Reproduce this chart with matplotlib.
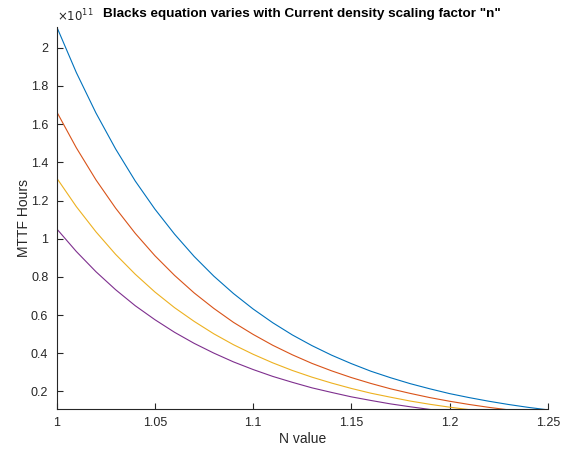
import numpy as np
import matplotlib.pyplot as plt
from matplotlib.ticker import FuncFormatter

plt.rcParams['font.family'] = ['Liberation Sans', 'DejaVu Sans']

# N value (current density scaling factor)
n_vals = [1.00, 1.01, 1.02, 1.03, 1.04, 1.05, 1.06, 1.07, 1.08, 1.09, 1.10, 1.11, 1.12,
          1.13, 1.14, 1.15, 1.16, 1.17, 1.18, 1.19, 1.20, 1.21, 1.22, 1.23, 1.24, 1.25]

# MTTF hours, in units of 1e11
mttf_1 = [2.110, 1.870, 1.658, 1.470, 1.302, 1.155, 1.024, 0.907, 0.804, 0.713, 0.632, 0.560, 0.496,
          0.440, 0.390, 0.346, 0.306, 0.272, 0.241, 0.214, 0.189, 0.168, 0.149, 0.132, 0.117, 0.104]
mttf_2 = [1.665, 1.476, 1.308, 1.160, 1.028, 0.911, 0.808, 0.716, 0.635, 0.562, 0.499, 0.442, 0.392,
          0.347, 0.308, 0.273, 0.242, 0.214, 0.190, 0.168, 0.149, 0.132, 0.117, 0.104, 0.092, 0.082]
mttf_3 = [1.318, 1.168, 1.036, 0.918, 0.814, 0.721, 0.639, 0.567, 0.502, 0.445, 0.395, 0.350, 0.310,
          0.275, 0.244, 0.216, 0.191, 0.170, 0.150, 0.133, 0.118, 0.105, 0.093, 0.082, 0.073, 0.065]
mttf_4 = [1.052, 0.933, 0.827, 0.733, 0.649, 0.576, 0.510, 0.452, 0.401, 0.355, 0.315, 0.279, 0.248,
          0.219, 0.195, 0.172, 0.153, 0.135, 0.120, 0.106, 0.094, 0.084, 0.074, 0.066, 0.058, 0.052]

colors = ['#0072BD', '#D95319', '#EDB120', '#7E2F8E']
axcol = '#262626'

fig = plt.figure(figsize=(5.68, 4.55), dpi=100)
ax = fig.add_axes([0.0998, 0.1018, 0.8645, 0.8395])

for y, c in zip([mttf_1, mttf_2, mttf_3, mttf_4], colors):
    ax.plot(n_vals, y, color=c, linewidth=0.8)

ax.set_xlim(1, 1.25)
ax.set_ylim(0.11, 2.11)
ax.set_xticks([1, 1.05, 1.1, 1.15, 1.2, 1.25])
ax.set_yticks(np.arange(0.2, 2.01, 0.2))
ax.xaxis.set_major_formatter(FuncFormatter(lambda v, p: ('%.2f' % v).rstrip('0').rstrip('.')))
ax.yaxis.set_major_formatter(FuncFormatter(lambda v, p: ('%.1f' % v).rstrip('0').rstrip('.')))

for s in ['top', 'right']:
    ax.spines[s].set_visible(False)
for s in ['left', 'bottom']:
    ax.spines[s].set_color(axcol)
    ax.spines[s].set_linewidth(0.8)
ax.tick_params(direction='in', length=4, width=0.8, colors=axcol, labelsize=9, pad=6)

ax.set_xlabel('N value', fontsize=10, color=axcol, labelpad=2)
ax.set_ylabel('MTTF Hours', fontsize=10, color=axcol, labelpad=0)
ax.set_title('Blacks equation varies with Current density scaling factor "n"',
             fontsize=9.7, fontweight='bold', pad=7)
ax.text(0, 1.005, r'$\times10^{11}$', transform=ax.transAxes, fontsize=8.5,
        color=axcol, va='bottom', ha='left')

fig.savefig('out.png', dpi=100)
